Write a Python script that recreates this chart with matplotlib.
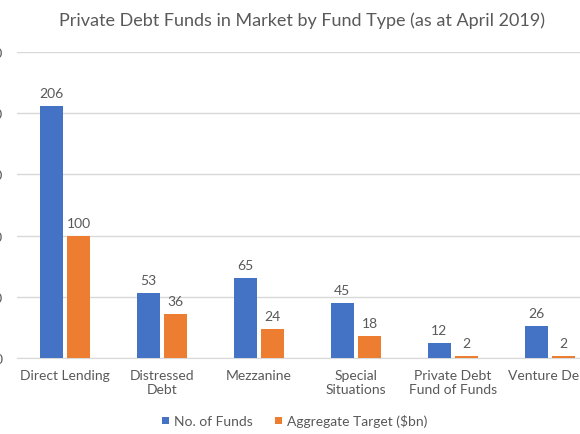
import numpy as np
import matplotlib.pyplot as plt

plt.rcParams['font.family'] = ['Lato', 'DejaVu Sans']

categories = ['Direct Lending', 'Distressed\nDebt', 'Mezzanine', 'Special\nSituations',
              'Private Debt\nFund of Funds', 'Venture Debt']
num_funds = [206, 53, 65, 45, 12, 26]
agg_target = [100, 36, 24, 18, 2, 2]

blue = '#4472C4'
orange = '#ED7D31'
grey = '#595959'

fig = plt.figure(figsize=(5.8, 4.35), dpi=100)
# axes extend past the canvas edges, as in the cropped original
ax = fig.add_axes([16.5 / 580, (435 - 359) / 435, 582 / 580, (359 - 53) / 435])

x = np.arange(len(categories))
w = 0.23
off = 0.14
b1 = ax.bar(x - off, num_funds, w, color=blue, label='No. of Funds', zorder=3)
b2 = ax.bar(x + off, agg_target, w, color=orange, label='Aggregate Target ($bn)', zorder=3)

for bars in (b1, b2):
    for r in bars:
        ax.annotate(f'{int(r.get_height())}', (r.get_x() + r.get_width() / 2, r.get_height()),
                    xytext=(0, 5), textcoords='offset points', ha='center', va='bottom',
                    fontsize=10, color=grey)

ax.set_xlim(-0.5, len(categories) - 0.5)
ax.set_ylim(0, 250)
ax.set_yticks(np.arange(0, 251, 50))
ax.yaxis.grid(True, color='#D9D9D9', linewidth=1, zorder=0)
for s in ['top', 'right', 'left']:
    ax.spines[s].set_visible(False)
ax.spines['bottom'].set_color('#D9D9D9')
ax.tick_params(axis='y', length=0, pad=10, labelsize=10, labelcolor=grey)
ax.tick_params(axis='x', length=0, pad=8, labelsize=10, labelcolor=grey)
ax.set_xticks(x)
ax.set_xticklabels(categories)

fig.text(0.521, 0.953, 'Private Debt Funds in Market by Fund Type (as at April 2019)',
         ha='center', va='center', fontsize=13, color=grey)

fig.legend(handles=[b1, b2], loc='center', bbox_to_anchor=(0.508, 0.03), ncol=2,
           frameon=False, fontsize=10, labelcolor=grey, handlelength=0.5,
           handleheight=0.5, columnspacing=1.65, handletextpad=0.35)

fig.savefig('out.png', dpi=100)
